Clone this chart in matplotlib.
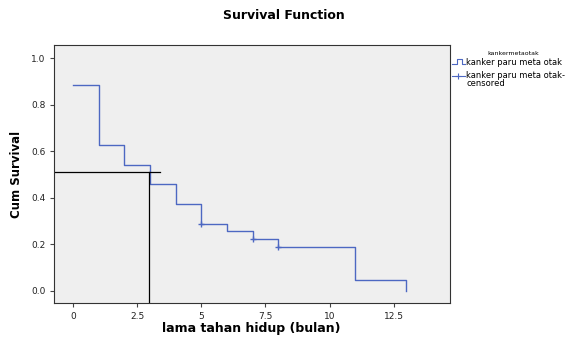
import matplotlib
matplotlib.use("Agg")
import matplotlib.pyplot as plt

# Kaplan-Meier data
times = [0, 1, 2, 3, 4, 5, 6, 7, 8, 11, 13]
surv = [0.885, 0.627, 0.541, 0.460, 0.374, 0.288, 0.258, 0.223, 0.189, 0.047, 0.0]
cens_times = [5, 7, 8]
cens_surv = [0.288, 0.223, 0.189]
median_surv = 0.511
median_time = 2.96
xticks = [0, 2.5, 5, 7.5, 10, 12.5]
xtick_labels = ["0", "2.5", "5", "7.5", "10", "12.5"]
yticks = [0.0, 0.2, 0.4, 0.6, 0.8, 1.0]
ytick_labels = ["0.0", "0.2", "0.4", "0.6", "0.8", "1.0"]

blue = "#4d68c2"
fig = plt.figure(figsize=(5.67, 3.39), dpi=100)
ax = fig.add_axes([0.0952, 0.1053, 0.6984, 0.762])
ax.set_facecolor("#efefef")

# step path
xs, ys = [], []
for i, (t, s) in enumerate(zip(times, surv)):
    if i == 0:
        xs.append(t); ys.append(s)
    else:
        xs += [t, t]; ys += [surv[i - 1], s]
ax.plot(xs, ys, color=blue, lw=1.0)
ax.plot(cens_times, cens_surv, linestyle="none", marker="+", color=blue, ms=4, mew=1.0)

ax.plot([-0.75, 3.39], [median_surv, median_surv], color="black", lw=0.9)
ax.plot([median_time, median_time], [median_surv, -0.053], color="black", lw=0.9)

ax.set_xlim(-0.75, 14.7)
ax.set_ylim(-0.053, 1.057)
ax.set_xticks(xticks)
ax.set_xticklabels(xtick_labels)
ax.set_yticks(yticks)
ax.set_yticklabels(ytick_labels)
ax.tick_params(labelsize=6.5, length=3, width=0.8, pad=3, colors="#444444", labelcolor="#222222")
for sp in ax.spines.values():
    sp.set_color("#333333")
    sp.set_linewidth(0.8)

fig.text(0.443, 0.03, "lama tahan hidup (bulan)", ha="center", va="center", fontsize=9, fontweight="bold")
ax.set_ylabel("Cum Survival", fontsize=8.5, fontweight="bold", labelpad=6)
fig.text(0.5, 0.955, "Survival Function", ha="center", va="center", fontsize=9, fontweight="bold")

# legend
fig.text(0.905, 0.843, "kankermetaotak", ha="center", va="center", fontsize=4.5)
lx0, lx1 = 0.797, 0.820
fig.lines.append(plt.Line2D([lx0, 0.806, 0.806, 0.814, 0.814, lx1], [0.812, 0.812, 0.827, 0.827, 0.812, 0.812],
                            transform=fig.transFigure, color=blue, lw=0.8))
fig.lines.append(plt.Line2D([lx0, lx1], [0.775, 0.775], transform=fig.transFigure, color=blue, lw=0.8))
fig.lines.append(plt.Line2D([0.8085], [0.775], transform=fig.transFigure, color=blue, marker="+", ms=4, mew=0.8))
fig.text(0.822, 0.815, "kanker paru meta otak", ha="left", va="center", fontsize=6)
fig.text(0.822, 0.765, "kanker paru meta otak-\ncensored", ha="left", va="center", fontsize=6, linespacing=0.85)

fig.savefig("out.png", dpi=100)
